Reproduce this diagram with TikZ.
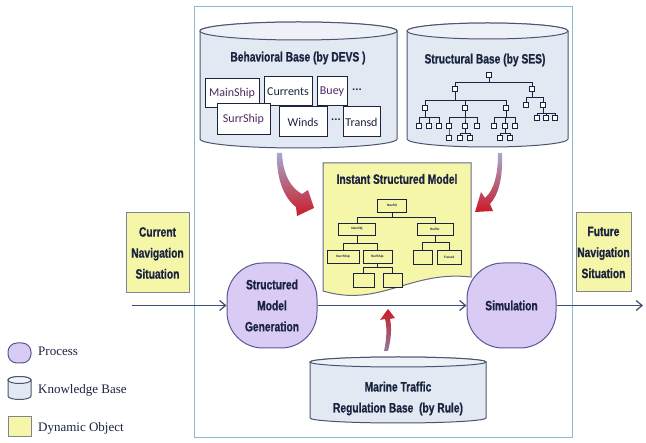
\documentclass[tikz,border=0pt]{standalone}
\usepackage{fontspec}
\setmainfont{Liberation Serif}
\newfontfamily\narrowsans[FakeStretch=0.76,BoldFeatures={FakeBold=0.8}]{Liberation Sans}
\newfontfamily\boxsans{Carlito}
\newfontfamily\plainsans{Liberation Sans}
\usetikzlibrary{arrows.meta}

\definecolor{ink}{HTML}{1A2440}
\definecolor{lineblue}{HTML}{3F4F72}
\definecolor{framec}{HTML}{8CBCCB}
\definecolor{kbfill}{HTML}{E2E9F2}
\definecolor{kbtop}{HTML}{EEF2F8}
\definecolor{kbline}{HTML}{4C5570}
\definecolor{procfill}{HTML}{DACBF4}
\definecolor{procline}{HTML}{565A92}
\definecolor{dynfill}{HTML}{F6F6A9}
\definecolor{dynline}{HTML}{80848F}
\definecolor{docline}{HTML}{666A88}
\definecolor{plum}{HTML}{4E2A62}
\definecolor{redarrow}{HTML}{CC1A28}
\definecolor{steelarrow}{HTML}{A2ABD0}
\definecolor{mauvearrow}{HTML}{8E7E9E}

% cylinder: left x, right x, top centre y, bottom centre y, end radius
\newcommand\kbcylinder[5]{%
  \pgfmathsetmacro\kbcx{(#1+#2)/2}%
  \pgfmathsetmacro\kbrx{(#2-#1)/2}%
  \filldraw[kb] (#1,#3) -- (#1,#4)
    arc[start angle=180,end angle=0,x radius=\kbrx,y radius=#5]
    -- (#2,#3)
    arc[start angle=0,end angle=-180,x radius=\kbrx,y radius=#5] -- cycle;
  \filldraw[kbcap] (\kbcx,#3) ellipse[x radius=\kbrx,y radius=#5];}

\begin{document}
\begin{tikzpicture}[x=1pt,y=-1pt,
  kb/.style={draw=kbline,fill=kbfill,line width=1pt},
  kbcap/.style={draw=kbline,fill=kbtop,line width=1pt},
  title/.style={font=\narrowsans\bfseries\fontsize{13.5}{21}\selectfont,
    text=ink,align=center,inner sep=0pt},
  proc/.style={draw=procline,fill=procfill,line width=1pt,
    rounded corners=36pt,minimum width=90pt,minimum height=85pt,
    inner sep=0pt,title},
  dyn/.style={draw=dynline,fill=dynfill,line width=1pt,inner sep=0pt,title},
  bbox/.style={draw=ink,fill=white,line width=1pt,inner sep=0pt,
    font=\boxsans\fontsize{12}{12}\selectfont,text=ink},
  ses/.style={draw=ink,fill=white,line width=0.7pt,inner sep=0pt,
    minimum width=5pt,minimum height=5.5pt},
  sestree/.style={draw=ink,line width=0.7pt},
  dbox/.style={draw=ink,fill=dynfill,line width=0.9pt,inner sep=0pt,
    font=\plainsans\bfseries\fontsize{3.2}{3.2}\selectfont,text=ink},
  dtree/.style={draw=ink,line width=0.8pt},
  flow/.style={draw=lineblue,line width=1.2pt,
    -{Straight Barb[length=6pt,width=10pt,line width=1.2pt]}},
  legend/.style={font=\rmfamily\fontsize{13}{13}\selectfont,text=ink,anchor=west,inner sep=0pt}
]
\useasboundingbox (0,0) rectangle (646,443);
\fill[white] (0,0) rectangle (646,443);

% system frame
\draw[framec,line width=1pt] (194,7) rectangle (572,438);

% ---- behavioural base ----
\kbcylinder{200}{397}{31}{139}{9}
\node[title] (bbase) at (298,58) {Behavioral Base (by DEVS )};
\node[bbox,minimum width=54pt,minimum height=29pt,text=plum] (mainship) at (232,93.5) {MainShip};
\node[bbox,minimum width=48pt,minimum height=29pt] (currents) at (288,91.5) {Currents};
\node[bbox,minimum width=30pt,minimum height=29pt,text=plum] (buey) at (332,91.5) {Buey};
\node[font=\boxsans\bfseries\fontsize{12}{12}\selectfont,text=ink] (dotsa) at (357,90) {...};
\node[bbox,minimum width=53pt,minimum height=31pt,text=plum] (surrship) at (243.5,119.5) {SurrShip};
\node[bbox,minimum width=48pt,minimum height=30pt] (winds) at (303,122) {Winds};
\node[font=\boxsans\bfseries\fontsize{12}{12}\selectfont,text=ink] (dotsb) at (336,120) {...};
\node[bbox,minimum width=37pt,minimum height=30pt] (transd) at (361.5,122) {Transd};

% ---- structural base ----
\kbcylinder{407}{568}{31}{139}{8}
\node[title] (sbase) at (485,60) {Structural Base (by SES)};
\foreach \n/\x/\y in {r/489/75, a/455/89, b/532/89,
    a1/425/108, a2/465/108, a3/506/108, b1/526/105, b2/543/105,
    b21/537/118, b22/546/118, b23/555/118,
    a11/419/126, a12/429/126, a13/439/126,
    a21/449/126, a22/465/126, a23/477/126,
    a31/494/126, a32/505/126, a33/515/126,
    a211/449/138, a221/460/138, a222/470/138,
    a321/500/138, a322/510/138}
  \node[ses] (\n) at (\x,\y) {};
\foreach \c in {a,b} \draw[sestree] (r.south) -- ++(0,4.5) -| (\c.north);
\foreach \c in {a1,a2,a3} \draw[sestree] (a.south) -- ++(0,8.5) -| (\c.north);
\foreach \c in {b1,b2} \draw[sestree] (b.south) -- ++(0,5.5) -| (\c.north);
\foreach \c in {b21,b22,b23} \draw[sestree] (b2.south) -- ++(0,5.5) -| (\c.north);
\foreach \c in {a11,a12,a13} \draw[sestree] (a1.south) -- ++(0,6.5) -| (\c.north);
\foreach \c in {a21,a22,a23} \draw[sestree] (a2.south) -- ++(0,6.5) -| (\c.north);
\foreach \c in {a31,a32,a33} \draw[sestree] (a3.south) -- ++(0,6.5) -| (\c.north);
\foreach \c in {a211} \draw[sestree] (a21.south) -- ++(0,4.5) -| (\c.north);
\foreach \c in {a221,a222} \draw[sestree] (a22.south) -- ++(0,4.5) -| (\c.north);
\foreach \c in {a321,a322} \draw[sestree] (a32.south) -- ++(0,4.5) -| (\c.north);

% ---- instant structured model (document) ----
\filldraw[draw=docline,fill=dynfill,line width=1pt]
  (323,163) -- (471,163) -- (471,277)
  .. controls (410,270) and (380,308) .. (323,291) -- cycle;
\node[title] (ismtitle) at (397,179) {Instant Structured Model};
\node[dbox,minimum width=29pt,minimum height=13pt] (dr) at (392,205.5) {NavSit};
\node[dbox,minimum width=37pt,minimum height=12pt] (dl) at (357,229) {NavObj};
\node[dbox,minimum width=36pt,minimum height=12pt] (drr) at (435,229) {Buffer};
\node[dbox,minimum width=32pt,minimum height=13pt] (dll) at (343,256.5) {SurrShip};
\node[dbox,minimum width=29pt,minimum height=13pt] (dlm) at (377.5,256.5) {BufShip};
\node[dbox,minimum width=19pt,minimum height=14pt] (drl) at (422.5,257) {};
\node[dbox,minimum width=24pt,minimum height=14pt] (drrr) at (449,257) {Transd};
\node[dbox,minimum width=21pt,minimum height=14pt] (dm1) at (363.5,280) {};
\node[dbox,minimum width=19pt,minimum height=14pt] (dm2) at (392.5,280) {};
\foreach \c in {dl,drr} \draw[dtree] (dr.south) -- ++(0,5) -| (\c.north);
\foreach \c in {dll,dlm} \draw[dtree] (dl.south) -- ++(0,8) -| (\c.north);
\foreach \c in {drl,drrr} \draw[dtree] (drr.south) -- ++(0,7) -| (\c.north);
\foreach \c in {dm1,dm2} \draw[dtree] (dlm.south) -- ++(0,4) -| (\c.north);

% ---- marine traffic regulation base ----
\kbcylinder{310}{486}{362}{418}{5}
\node[title] (mtrb) at (398,398.5) {Marine Traffic\\Regulation Base~~(by Rule)};

% ---- knowledge feeding arrows ----
\shade[top color=steelarrow,bottom color=redarrow]
  (277,153) .. controls (276,178) and (284,198) .. (296,207)
  -- (297,216) -- (314,208) -- (308,190) -- (302,194)
  .. controls (291,188) and (283,175) .. (282,153) -- cycle;
\shade[top color=steelarrow,bottom color=redarrow]
  (498,153) .. controls (498,175) and (494,190) .. (485,198)
  -- (481,192) -- (475,212) -- (493,211) -- (490,204)
  .. controls (498,195) and (503,180) .. (502,153) -- cycle;
\shade[top color=redarrow,bottom color=mauvearrow]
  (384,351) .. controls (387,338) and (387,326) .. (385,319)
  -- (380,320) -- (388,309) -- (395,318) -- (390,319)
  .. controls (392,328) and (391,340) .. (388,351) -- cycle;

% ---- processes and situations ----
\node[dyn,minimum width=63pt,minimum height=80pt] (cur) at (157.5,253)
  {Current\\Navigation\\Situation};
\node[dyn,minimum width=55pt,minimum height=79pt] (fut) at (603.5,252.5)
  {Future\\Navigation\\Situation};
\node[proc] (smg) at (272,305.5) {Structured\\Model\\Generation};
\node[proc,minimum width=89pt] (sim) at (511.5,305.5) {Simulation};
\coordinate (start) at (132,305.5);
\coordinate (finish) at (643,305.5);
\draw[flow] (start) -- (smg);
\draw[flow] (smg) -- (sim);
\draw[flow] (sim) -- (finish);

% ---- legend ----
\node[draw=procline,fill=procfill,line width=1pt,rounded corners=9pt,
  minimum width=23pt,minimum height=20pt,inner sep=0pt] (lgproc) at (19.5,353) {};
\node[legend] (lgproctext) at (38,351) {Process};
\kbcylinder{8}{31}{380}{396}{3.5}
\node[legend] (lgkbtext) at (38,390) {Knowledge Base};
\node[draw=dynline,fill=dynfill,line width=1pt,minimum width=23pt,
  minimum height=20pt,inner sep=0pt] (lgdyn) at (19.5,427) {};
\node[legend] (lgdyntext) at (38,428) {Dynamic Object};
\end{tikzpicture}
\end{document}
